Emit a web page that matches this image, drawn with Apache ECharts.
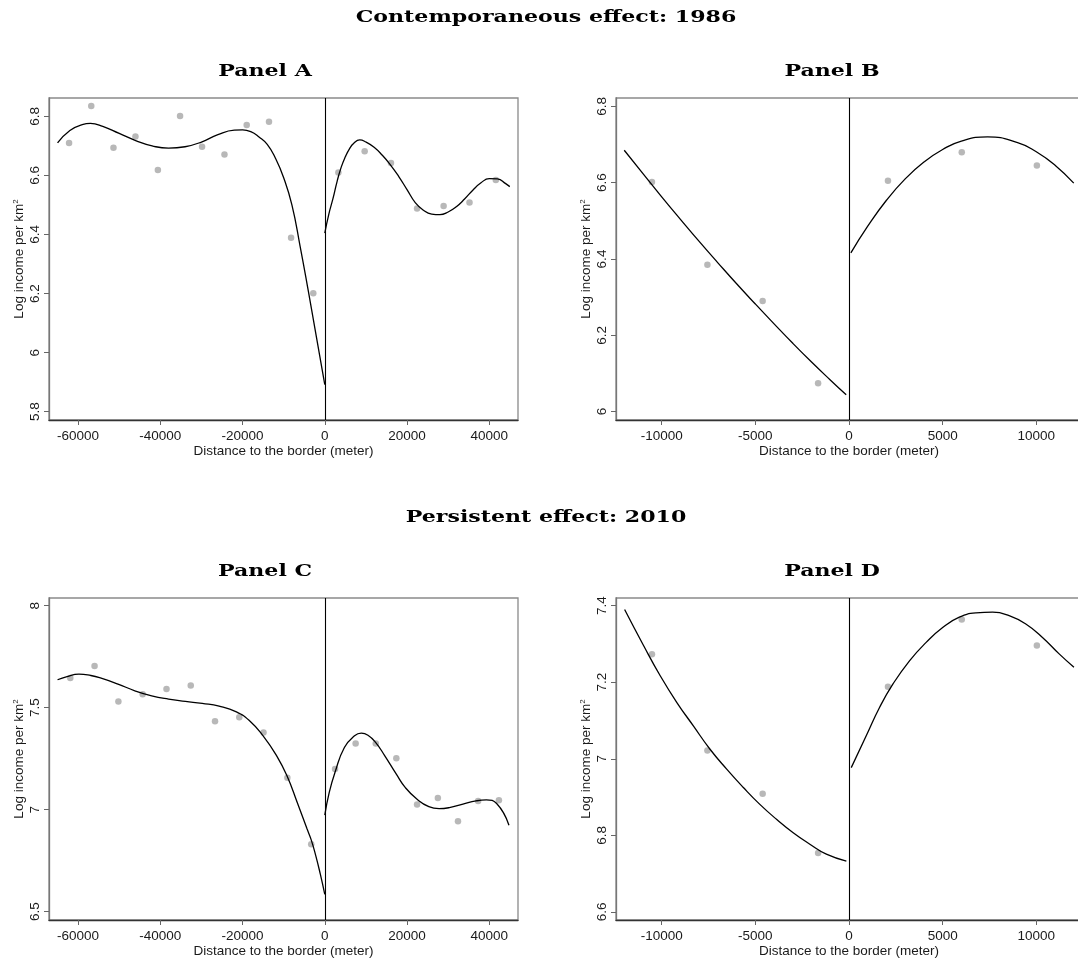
<!DOCTYPE html>
<html>
<head>
<meta charset="utf-8">
<script src="https://cdn.jsdelivr.net/npm/echarts@6.0.0/dist/echarts.min.js"></script>
<style>
  html, body { margin: 0; padding: 0; background: #fff; }
  #chart { width: 1078px; height: 961px; }
</style>
</head>
<body>
<div id="chart"></div>
<script>
// ---------- tick labels ----------
const xTicksWide = [-60000, -40000, -20000, 0, 20000, 40000];
const xTicksNarrow = [-10000, -5000, 0, 5000, 10000];
const yTicksA = [5.8, 6, 6.2, 6.4, 6.6, 6.8];
const yTicksB = [6, 6.2, 6.4, 6.6, 6.8];
const yTicksC = [6.5, 7, 7.5, 8];
const yTicksD = [6.6, 6.8, 7, 7.2, 7.4];

// ---------- Panel A (1986, wide bandwidth) ----------
const aPoints = [[-62200,6.710],[-56800,6.835],[-51400,6.694],[-46050,6.732],[-40600,6.618],[-35200,6.801],[-29850,6.697],[-24400,6.671],[-19000,6.771],[-13570,6.782],[-8200,6.389],[-2800,6.201],[3300,6.610],[9700,6.682],[16100,6.642],[22450,6.488],[28900,6.496],[35200,6.508],[41600,6.584]];
const aLeftCurve = [[-65000,6.710],[-62000,6.752],[-59000,6.772],[-57000,6.776],[-54000,6.766],[-50000,6.742],[-46000,6.718],[-42000,6.700],[-38000,6.692],[-34000,6.697],[-30000,6.713],[-26000,6.738],[-22000,6.753],[-20000,6.754],[-18000,6.748],[-16000,6.730],[-14000,6.705],[-12000,6.658],[-10000,6.592],[-8000,6.500],[-6000,6.360],[-4000,6.208],[-2000,6.050],[0,5.892]];
const aRightCurve = [[0,6.405],[1000,6.470],[2000,6.522],[3000,6.580],[4000,6.628],[5000,6.663],[6000,6.690],[7000,6.708],[8500,6.720],[10000,6.713],[12000,6.695],[14000,6.668],[16000,6.635],[18000,6.596],[20000,6.552],[22000,6.508],[24000,6.482],[26000,6.469],[28000,6.467],[30000,6.476],[32000,6.494],[34000,6.520],[36000,6.550],[38000,6.575],[40000,6.589],[42000,6.588],[44000,6.572],[45000,6.562]];

// ---------- Panel B (1986, narrow bandwidth) ----------
const bPoints = [[-10520,6.602],[-7560,6.385],[-4610,6.290],[-1650,6.074],[2080,6.605],[6020,6.680],[10030,6.645]];
const bLeftCurve = [[-12000,6.685],[-11000,6.624],[-10000,6.563],[-9000,6.504],[-8000,6.446],[-7000,6.390],[-6000,6.335],[-5000,6.282],[-4000,6.230],[-3000,6.179],[-2000,6.130],[-1000,6.083],[-150,6.044]];
const bRightCurve = [[100,6.416],[1000,6.486],[2000,6.554],[3000,6.610],[4000,6.654],[5000,6.687],[6000,6.709],[7400,6.720],[9000,6.705],[10000,6.681],[11000,6.646],[12000,6.599]];

// ---------- Panel C (2010, wide bandwidth) ----------
const cPoints = [[-61900,7.646],[-56000,7.705],[-50200,7.530],[-44300,7.566],[-38500,7.592],[-32600,7.609],[-26700,7.434],[-20800,7.453],[-14900,7.378],[-9100,7.157],[-3300,6.830],[2500,7.200],[7500,7.324],[12400,7.324],[17400,7.252],[22450,7.025],[27500,7.057],[32400,6.943],[37300,7.043],[42350,7.046]];
const cLeftCurve = [[-65000,7.637],[-62700,7.653],[-59800,7.665],[-56900,7.658],[-54400,7.645],[-50300,7.616],[-46200,7.583],[-42100,7.558],[-38000,7.542],[-33900,7.531],[-29800,7.521],[-25700,7.508],[-21500,7.480],[-18300,7.436],[-15000,7.362],[-11700,7.264],[-9200,7.166],[-6700,7.035],[-4300,6.905],[-3300,6.852],[-2200,6.775],[-1100,6.685],[0,6.585]];
const cRightCurve = [[0,6.973],[1070,7.084],[2470,7.182],[4770,7.305],[7240,7.362],[8880,7.375],[10500,7.365],[12400,7.329],[14600,7.264],[17400,7.174],[19600,7.108],[22450,7.051],[25300,7.015],[27800,7.005],[30300,7.010],[33600,7.027],[36800,7.043],[39300,7.048],[41800,7.030],[44800,6.924]];

// ---------- Panel D (2010, narrow bandwidth) ----------
const dPoints = [[-10520,7.273],[-7560,7.022],[-4610,6.909],[-1650,6.754],[2080,7.188],[6020,7.364],[10030,7.296]];
const dLeftCurve = [[-11980,7.390],[-10970,7.296],[-10080,7.217],[-9190,7.147],[-8310,7.086],[-7420,7.025],[-6530,6.973],[-5640,6.925],[-4760,6.881],[-3870,6.842],[-2980,6.807],[-2090,6.777],[-1210,6.751],[-140,6.733]];
const dRightCurve = [[120,6.977],[920,7.060],[1630,7.134],[2340,7.195],[3230,7.256],[4120,7.304],[5000,7.343],[5890,7.370],[6780,7.381],[7670,7.383],[8550,7.374],[9440,7.352],[10330,7.317],[11220,7.274],[12010,7.239]];

// ---------- texts ----------
const mainTitles = ['Contemporaneous effect: 1986', 'Persistent effect: 2010'];
const panelTitles = ['Panel A', 'Panel B', 'Panel C', 'Panel D'];
const xAxisTitle = 'Distance to the border (meter)';
const yAxisTitle = 'Log income per km{sup|2}';

// ---------- layout ----------
const SANS = '"Liberation Sans", Arial, sans-serif';
const SERIF = '"DejaVu Serif", serif';
const TEXT = '#1a1a1a';
const panels = [
  { grid: { left: 49, top: 98, width: 469, height: 322 }, x: [-67080, 46995], y: [5.772, 6.862], xt: xTicksWide, yt: yTicksA, pts: aPoints, l: aLeftCurve, r: aRightCurve },
  { grid: { left: 616, top: 98, width: 466, height: 322 }, x: [-12440, 12440], y: [5.978, 6.822], xt: xTicksNarrow, yt: yTicksB, pts: bPoints, l: bLeftCurve, r: bRightCurve },
  { grid: { left: 49, top: 598, width: 469, height: 322 }, x: [-67080, 46995], y: [6.459, 8.038], xt: xTicksWide, yt: yTicksC, pts: cPoints, l: cLeftCurve, r: cRightCurve },
  { grid: { left: 616, top: 598, width: 466, height: 322 }, x: [-12440, 12440], y: [6.579, 7.420], xt: xTicksNarrow, yt: yTicksD, pts: dPoints, l: dLeftCurve, r: dRightCurve }
];

const grids = [], xAxes = [], yAxes = [], series = [];
panels.forEach((p, i) => {
  grids.push(Object.assign({
    show: true, borderColor: '#8a8a8a', borderWidth: 1.3,
    backgroundColor: 'transparent', containLabel: false, outerBoundsMode: 'none'
  }, p.grid));
  xAxes.push({
    type: 'value', gridIndex: i, min: p.x[0], max: p.x[1],
    splitLine: { show: false },
    axisLine: { show: true, onZero: false, lineStyle: { color: '#333', width: 1.3 } },
    axisTick: { show: true, length: 5, inside: false, customValues: p.xt, lineStyle: { color: '#666', width: 1 } },
    axisLabel: { customValues: p.xt, margin: 9, fontSize: 13.5, fontFamily: SANS, color: TEXT,
      formatter: v => String(Math.round(v)) },
    name: xAxisTitle, nameLocation: 'middle', nameGap: 20,
    nameTextStyle: { fontSize: 13.5, fontFamily: SANS, color: TEXT }
  });
  yAxes.push({
    type: 'value', gridIndex: i, min: p.y[0], max: p.y[1],
    splitLine: { show: false },
    axisLine: { show: true, onZero: false, lineStyle: { color: '#777', width: 1.3 } },
    axisTick: { show: true, length: 5, inside: false, customValues: p.yt, lineStyle: { color: '#666', width: 1 } },
    axisLabel: { customValues: p.yt, rotate: 90, margin: 7, fontSize: 13.5, fontFamily: SANS, color: TEXT,
      formatter: v => String(Math.round(v * 10) / 10) },
    name: yAxisTitle, nameLocation: 'middle', nameRotate: 90, nameGap: 23,
    nameTextStyle: { fontSize: 13.5, fontFamily: SANS, color: TEXT,
      rich: { sup: { fontSize: 8, fontFamily: SANS, color: TEXT, verticalAlign: 'top' } } }
  });
  series.push({
    type: 'scatter', xAxisIndex: i, yAxisIndex: i, data: p.pts,
    symbol: 'circle', symbolSize: 6.5, itemStyle: { color: '#a6a6a6' }, silent: true, z: 2,
    markLine: {
      silent: true, symbol: ['none', 'none'], label: { show: false },
      lineStyle: { color: '#000', width: 1.1, type: 'solid' },
      data: [{ xAxis: 0 }]
    }
  });
  [p.l, p.r].forEach(curve => {
    series.push({
      type: 'line', xAxisIndex: i, yAxisIndex: i, data: curve,
      showSymbol: false, smooth: true, silent: true, z: 3,
      lineStyle: { color: '#000', width: 1.3 }
    });
  });
});

function titleText(text, x, baseline) {
  return {
    type: 'text', x: x, y: baseline - 5, scaleX: 1.3, scaleY: 1,
    style: { text: text, font: 'bold 17px ' + SERIF, fill: '#000', align: 'center', verticalAlign: 'middle' }
  };
}
const graphics = [
  titleText(mainTitles[0], 546, 23),
  titleText(mainTitles[1], 546, 523),
  titleText(panelTitles[0], 265, 77),
  titleText(panelTitles[1], 832, 77),
  titleText(panelTitles[2], 265, 577),
  titleText(panelTitles[3], 832, 577)
];

const chart = echarts.init(document.getElementById('chart'), null, { renderer: 'canvas' });
chart.setOption({
  animation: false,
  backgroundColor: '#fff',
  grid: grids,
  xAxis: xAxes,
  yAxis: yAxes,
  series: series,
  graphic: graphics
});
</script>
</body>
</html>
